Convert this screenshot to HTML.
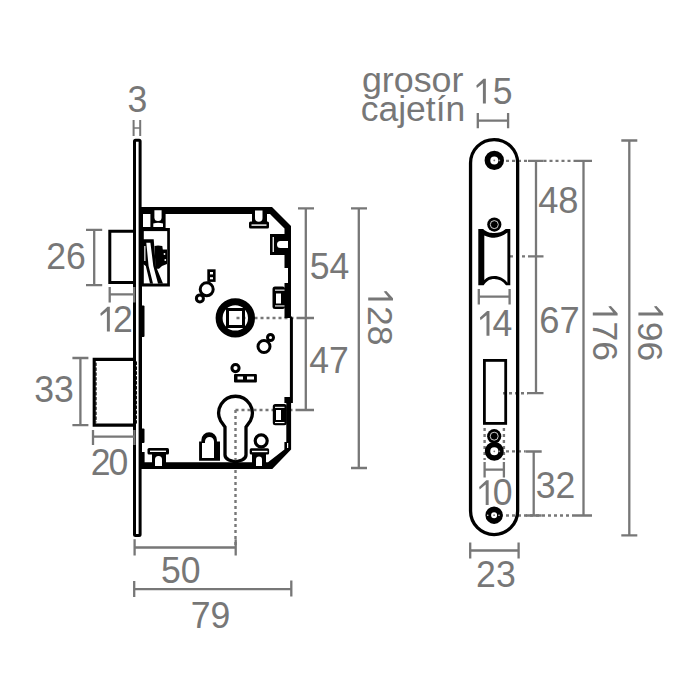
<!DOCTYPE html>
<html><head><meta charset="utf-8">
<style>
html,body{margin:0;padding:0;background:#fff;width:700px;height:700px;overflow:hidden;}
svg{display:block;}
text{font-family:"Liberation Sans",sans-serif;fill:#777777;font-size:35.6px;}
.d{stroke:#777777;stroke-width:2.3;fill:none;}
.dt{stroke:#777777;stroke-width:2.4;fill:none;stroke-dasharray:3 3;}
.k{fill:#000;}
.ks{stroke:#000;fill:none;}
.w{fill:#fff;}
.g{fill:#777777;}
</style></head><body>
<svg width="700" height="700" viewBox="0 0 700 700">
<rect width="700" height="700" fill="#fff"/>

<!-- ===== LEFT VIEW: dimension lines ===== -->
<g class="d">
  <!-- 3 -->
  <path d="M133.6,120V136M140.2,120V136" stroke-width="2"/>
  <path d="M133.6,128H140.2" stroke-width="1.5"/>
  <!-- 26 -->
  <path d="M94.2,229.8V285.2M86,229.8H102.2M86,285.2H102.2"/>

  <!-- 33 -->
  <path d="M80.4,358V425.2M72.4,358H88.4M72.4,425.2H88.4"/>

  <!-- 50 -->
  <path d="M134.6,547.5H235.7M134.6,539.3V555.6M235.7,539.3V555.6"/>
  <!-- 79 -->
  <path d="M134.2,589.2H291.3M134.2,581V597M291.3,580.5V596.5"/>
  <!-- 54 / 47 -->
  <path d="M305.8,208.4V410M298,208.4H314M298,318H314M298,410H314"/>
  <!-- 128 -->
  <path d="M358.8,208.4V468M351,208.4H367M351,468H367"/>
</g>
<g class="dt">
  <path d="M236.5,318H298"/>
  <path d="M235.5,410H298"/>
  <path d="M235.5,410V547"/>
</g>

<!-- ===== LEFT VIEW: black drawing ===== -->
<!-- faceplate side -->
<rect x="134.5" y="140.2" width="5.6" height="395.3" rx="1" class="ks" stroke-width="3"/>
<!-- latch bolt -->
<path d="M134,231.3H109.8V282.6H134" class="ks" stroke-width="3"/>
<!-- deadbolt -->
<path d="M134,359.4H94.2V425.1H134" class="ks" stroke-width="3.1"/>
<path d="M136.2,362V423" stroke="#000" stroke-width="1.5" stroke-dasharray="2.5 2.4" stroke-linecap="round" fill="none"/>
<path d="M96,363V422" stroke="#000" stroke-width="1.2" stroke-dasharray="2.5 2.4" stroke-linecap="round" fill="none"/>
<!-- bars on faceplate -->
<rect x="141" y="305.5" width="3.5" height="31.5" rx="1" class="k"/>
<rect x="141" y="428.5" width="3.5" height="14.5" rx="1" class="k"/>

<!-- case body -->
<path class="k" fill-rule="evenodd" d="
M139,207 L272,207 L291,226 L291,316 L292.9,318 L292.9,403 L291.1,403 L291.1,449.4 L272.3,469 L139,469 Z
M142,214 L270,214 L284.5,228.5 L284.5,268 L288,268 L288,283 L284.5,283 L284.5,318 L289.9,318 L289.9,397 L284.4,397 L284.4,403 L286.3,403 L286.3,442 L284.4,442 L284.4,449.5 L268,462.3 L142,462.3 Z"/>
<rect x="287" y="443" width="1.2" height="5" class="w"/>
<!-- top-left block with holes -->
<rect x="142" y="207" width="23.6" height="24" class="k"/>
<rect x="143" y="214" width="7.4" height="13" class="w"/>
<path d="M154.4,210.3H161.6V217.5A3.6,3.6 0 0 1 154.4,217.5Z" class="w"/>
<path d="M153.3,223.5Q158,221.8 163,223.5V227.1H153.3Z" class="w"/>
<!-- latch block -->
<rect x="139" y="228" width="30.9" height="58.5" class="k"/>
<rect x="143.8" y="231.1" width="23.4" height="52.3" class="w"/>
<!-- lever -->
<path class="k" d="M154.5,246 L158,245.5 L162.3,246 L162.8,249.5 L167,249.5 L167,264 L162,266 L159,268.7 L155.5,268.7 Z"/>
<circle cx="164.5" cy="254" r="0.9" class="w"/>
<circle cx="165.3" cy="260" r="0.9" class="w"/>
<path class="k" d="M143,239.3 L153.7,239.3 L155.8,266 L163,283.5 L150,283.5 L145.8,266 L143,264 Z"/>
<path class="w" d="M146.3,242.7 L150.4,242.7 L153.3,266 L158,283.6 L153,283.6 L148.6,266 Z"/>
<rect x="144" y="246" width="1.6" height="15" fill="#bbb"/>
<!-- top-right stud -->
<rect x="249" y="221.5" width="20" height="7" rx="1.5" class="k"/>
<rect x="252" y="213" width="15" height="9" class="k"/>
<path d="M255,210.5H262.5V218A3.75,3.75 0 0 1 255,218Z" class="w"/>
<rect x="251.5" y="224.4" width="15" height="1.4" class="w"/>
<!-- notch on right wall -->
<rect x="270" y="234" width="15" height="21" class="k"/>
<rect x="272.6" y="237" width="1.3" height="15" class="w"/>
<path d="M280.5,241H288V248H280.5A3.5,3.5 0 0 1 280.5,241Z" class="w"/>
<!-- right studs -->
<rect x="272.5" y="286.5" width="12.5" height="22.5" rx="2.5" class="k"/>
<rect x="276" y="293.5" width="5" height="10" class="w"/>
<rect x="275" y="289.6" width="9.5" height="1.1" class="w"/>
<rect x="275" y="305.4" width="9.5" height="1.1" class="w"/>
<rect x="272.8" y="404" width="14" height="21.2" rx="2.5" class="k"/>
<rect x="276" y="410" width="5" height="10" class="w"/>
<rect x="275" y="406.8" width="9.5" height="1.1" class="w"/>
<rect x="275" y="422" width="9.5" height="1.1" class="w"/>

<!-- bottom studs -->
<rect x="147.5" y="448" width="21.5" height="6.5" rx="1.5" class="k"/>
<rect x="152" y="454" width="14" height="9" class="k"/>
<rect x="150" y="450.6" width="16" height="1.4" class="w"/>
<path d="M155,466V459.5A3.5,3.5 0 0 1 162,459.5V466Z" class="w"/>
<rect x="249.7" y="448.3" width="19.4" height="6.1" rx="1.5" class="k"/>
<rect x="252" y="454" width="14" height="9" class="k"/>
<rect x="252" y="450.8" width="15.5" height="1.4" class="w"/>
<path d="M256,466V459.5A3,3 0 0 1 262,459.5V466Z" class="w"/>
<circle cx="261.2" cy="440.8" r="6" class="ks" stroke-width="3.2"/>
<!-- step at bottom-left corner -->
<rect x="142" y="452" width="2.6" height="11" class="k"/>

<!-- keyhole -->
<path class="ks" stroke-width="3.3" d="M225,455 V427 L220.5,420.6 A16.8,16.8 0 1 1 250.5,420.6 L246,427 V455 Q246,458 242,460 L235.5,462 L229,460 Q225,458 225,455 Z"/>
<!-- padlock -->
<path class="k" fill-rule="evenodd" d="M201.4,441.6 L201.4,440 A7.75,7.75 0 0 1 216.9,440 L216.9,441.6 L220,441.6 L220,460.7 L199.1,460.7 L199.1,441.6 Z
M205,443 L205,441.5 A4.5,4.5 0 0 1 214,441.5 L214,458.1 L202,458.1 L202,443 Z"/>

<!-- hub -->
<circle cx="235.3" cy="317.9" r="16.2" class="ks" stroke-width="7"/>
<rect x="227.5" y="309.5" width="16" height="17" class="ks" stroke-width="3"/>
<!-- circles near hub -->
<rect x="207.3" y="269.3" width="8.3" height="12.6" class="k"/>
<rect x="210" y="272" width="3" height="2.4" class="w"/>
<rect x="210" y="277.2" width="3" height="2.1" class="w"/>
<circle cx="206.7" cy="289.3" r="6.5" class="ks" stroke-width="3"/>
<circle cx="199.9" cy="298.4" r="3.5" class="ks" stroke-width="3"/>
<circle cx="264" cy="346.5" r="6" class="ks" stroke-width="3"/>
<circle cx="270.5" cy="337.5" r="3" class="ks" stroke-width="3"/>
<circle cx="235.5" cy="368.1" r="3.6" class="ks" stroke-width="3"/>
<rect x="234" y="373.9" width="22.9" height="8.5" rx="1" class="k"/>
<rect x="237.5" y="376.5" width="5.5" height="3" class="w"/>
<rect x="247" y="376.5" width="7" height="3" class="w"/>

<g class="d">
  <path d="M109.7,287V302.5M134.2,287V302.5M109.7,294.3H134.2"/>
  <path d="M93,430V445M134.4,430V445M93,436.6H134.4"/>
</g>
<!-- ===== RIGHT VIEW: dims ===== -->
<g class="d">
  <!-- 15 -->
  <path d="M477.8,113V128.3M508.1,113V128.3M477.8,120.6H508.1"/>
  <!-- 48/67 -->
  <path d="M536,160.9V393.2M528,160.9H543.5M528,256.4H543.5M528,393.2H543.5"/>
  <!-- 176 -->
  <path d="M583.5,160.9V515.5M575,160.9H592M575,515.5H592"/>
  <!-- 196 -->
  <path d="M629.3,140.5V535.4M621.3,140.5H637.3M621.3,535.4H637.3"/>
  <!-- 14 -->
  <path d="M478.8,289V304.4M509.6,289V304.4M478.8,296.7H509.6"/>
  <!-- 10 -->
  <path d="M484.6,462V477.4M503.9,462V477.4M484.6,469.6H503.9"/>
  <!-- 32 -->
  <path d="M533.7,451.5V515.5M525.7,451.5H541.7M525.7,515.5H541.7"/>
  <!-- 23 -->
  <path d="M470.2,542.4V558.5M518.6,542.4V558.5M470.2,550.5H518.6"/>
</g>
<g class="dt">
  <path d="M500,160.9H528M543.5,160.9H575"/>
  <path d="M510,256.4H528"/>
  <path d="M503,393.2H528"/>
  <path d="M500,451.4H525.7"/>
  <path d="M500,515.5H575"/>
  <path d="M484.6,428V460M503.9,428V460"/>
</g>

<!-- ===== RIGHT VIEW: black ===== -->
<rect x="470.55" y="139.55" width="47.1" height="395" rx="23.55" class="ks" stroke-width="3.3"/>
<!-- top screw -->
<circle cx="494.3" cy="160.4" r="6.85" class="ks" stroke-width="5.7"/>
<circle cx="494.3" cy="160.4" r="0.9" class="g"/>
<circle cx="499.3" cy="160.4" r="0.9" fill="#999"/>
<!-- small screw 1 -->
<circle cx="494.3" cy="224.6" r="7.1" class="k"/>
<circle cx="494.3" cy="224.6" r="4" fill="none" stroke="#fff" stroke-width="0.8"/>
<!-- latch opening -->
<path class="k" fill-rule="evenodd" d="M478.3,229.1 H483.1 C487,232.6 490,233.1 494.3,233.1 C498.5,233.1 502,232.4 505.7,229.1 H510.3 V285.3 H506 C503,281 499,279 494.3,279 C489.5,279 486.5,281 483.7,285.3 H478.3 Z
M484.3,235.4 C488,237.2 491,237.7 494.3,237.7 C498.5,237.7 503,236 507.4,232.6 V282.7 C504,278.5 499.5,276.1 494.3,276.1 C489.5,276.1 487,277.5 484.3,279.9 Z"/>
<!-- deadbolt opening -->
<rect x="484.4" y="360.4" width="21.3" height="63" class="ks" stroke-width="2.8"/>
<!-- small screw 2 -->
<circle cx="494.2" cy="436.2" r="7.1" class="k"/>
<circle cx="494.2" cy="436.2" r="4" fill="none" stroke="#fff" stroke-width="0.8"/>
<!-- big screw 2 -->
<circle cx="494.3" cy="451.3" r="6.75" class="ks" stroke-width="5.4"/>
<circle cx="494.3" cy="451.3" r="0.9" class="g"/>
<circle cx="499.3" cy="451.3" r="0.9" fill="#999"/>
<!-- bottom screw -->
<circle cx="494.1" cy="515.2" r="5.85" class="ks" stroke-width="5.7"/>
<circle cx="494.1" cy="515.2" r="0.9" class="g"/>
<circle cx="499" cy="515.2" r="0.8" fill="#ddd"/>
<circle cx="487.7" cy="515.2" r="0.8" fill="#ddd"/>

<!-- ===== TEXT ===== -->
<text transform="translate(127.54,112.0) scale(1,1.03)">3</text>
<text transform="translate(46.21,268.6) scale(1,1.03)">26</text>
<path class="g" transform="translate(100.3,331.6)" d="M7.2,-24.8H9.55V0H6.6V-20.4L0.6,-15.5L0,-18.1Z"/>
<text transform="translate(112.91,331.6) scale(1,1.03)">2</text>
<text transform="translate(34.14,401.9) scale(1,1.03)">33</text>
<text transform="translate(90.71,474.8) scale(1,1.03)">2</text>
<text transform="translate(108.61,474.8) scale(1,1.03)">0</text>
<text transform="translate(161.07,582.6) scale(1,1.03)">50</text>
<text transform="translate(190.78,627.6) scale(1,1.03)">79</text>
<text transform="translate(309.77,279.0) scale(1,1.03)">54</text>
<text transform="translate(309.28,372.7) scale(1,1.03)">47</text>
<g transform="translate(368.2,291) rotate(90)"><path class="g" d="M7.2,-24.8H9.55V0H6.6V-20.4L0.6,-15.5L0,-18.1Z"/><text x="14.91" y="0">28</text></g>
<text x="361.9" y="91.5" style="font-size:35.8px">grosor</text>
<text x="360.7" y="120.6" style="font-size:35.5px">cajetín</text>
<path class="g" transform="translate(476.3,103.6)" d="M7.2,-24.8H9.55V0H6.6V-20.4L0.6,-15.5L0,-18.1Z"/>
<text transform="translate(492.67,103.6) scale(1,1.03)">5</text>
<text transform="translate(538.17,213.0) scale(1,1.03)" style="font-size:36.3px">48</text>
<text transform="translate(539.36,333.0) scale(1,1.03)" style="font-size:36.3px">67</text>
<g transform="translate(592.8,306) rotate(90)"><path class="g" d="M7.2,-24.8H9.55V0H6.6V-20.4L0.6,-15.5L0,-18.1Z"/><text x="15.58" y="0">76</text></g>
<g transform="translate(638.4,306) rotate(90)"><path class="g" d="M7.2,-24.8H9.55V0H6.6V-20.4L0.6,-15.5L0,-18.1Z"/><text x="15.73" y="0">96</text></g>
<path class="g" transform="translate(479.9,335.7)" d="M7.2,-24.8H9.55V0H6.6V-20.4L0.6,-15.5L0,-18.1Z"/>
<text transform="translate(492.48,335.7) scale(1,1.03)">4</text>
<path class="g" transform="translate(479.1,505.0)" d="M7.2,-24.8H9.55V0H6.6V-20.4L0.6,-15.5L0,-18.1Z"/>
<text transform="translate(492.71,505.0) scale(1,1.03)">0</text>
<text transform="translate(535.74,498.4) scale(1,1.03)">32</text>
<text transform="translate(476.11,587.0) scale(1,1.03)">23</text>
</svg>
</body></html>
